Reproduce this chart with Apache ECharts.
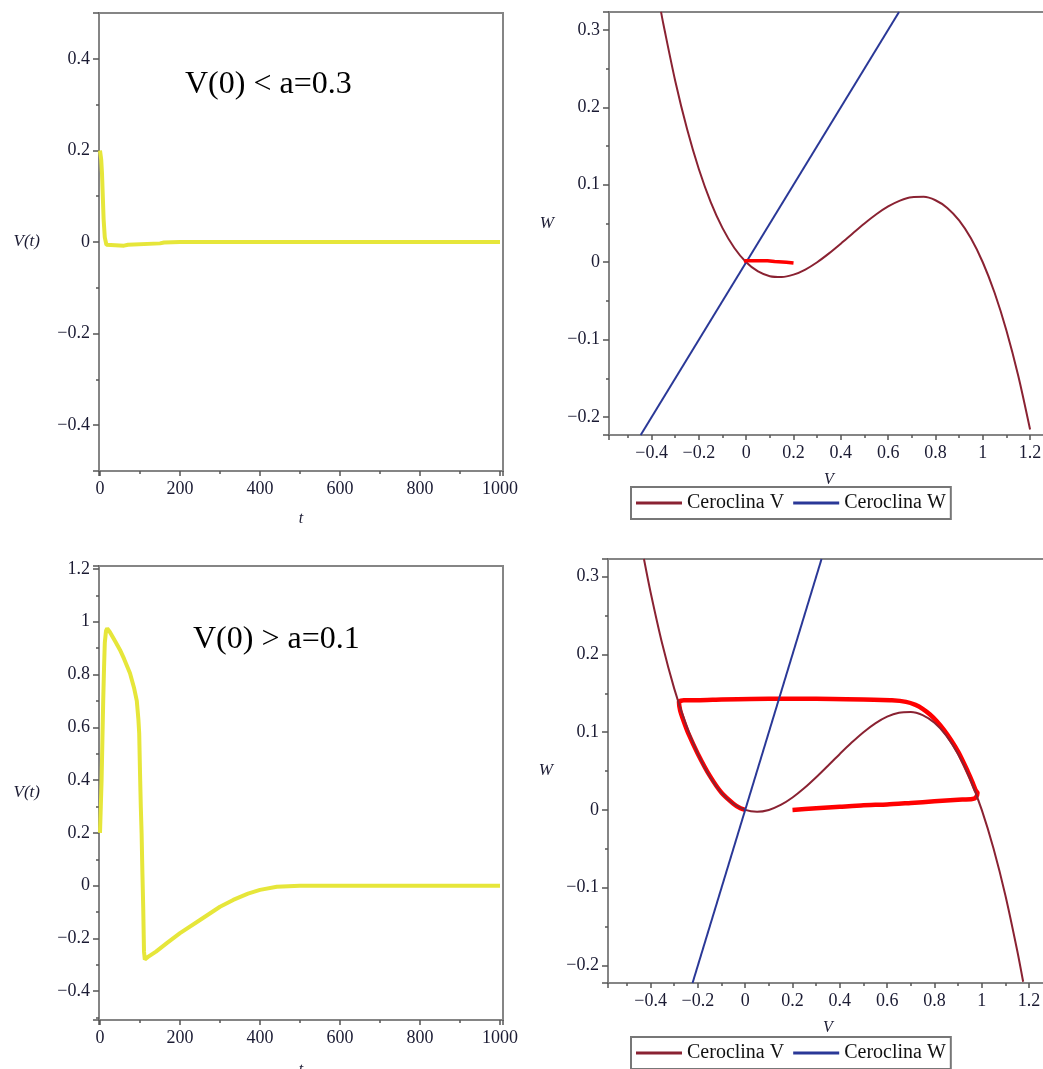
<!DOCTYPE html>
<html>
<head>
<meta charset="utf-8">
<script src="https://cdn.jsdelivr.net/npm/echarts@6/dist/echarts.min.js"></script>
<style>html,body{margin:0;padding:0;background:#fff}#c{width:1043px;height:1069px}</style>
</head>
<body>
<div id="c"></div>
<script>
// ---- data ----
// Top-left: V(t) for V(0)=0.2 < a=0.3
const tlT = [0, 3, 5, 7, 9, 12, 16, 20, 60, 70, 150, 160, 200, 1000];
const tlV = [0.2, 0.18, 0.15, 0.1, 0.05, 0.01, -0.006, -0.008, -0.008, -0.006, -0.003, -0.001, 0, 0];
// Bottom-left: V(t) for V(0)=0.2 > a=0.1
const blT = [0, 2, 4, 6, 8, 10, 12, 15, 18, 25, 40, 50, 60, 75, 85, 92, 96, 98, 100, 102, 104, 106, 108, 110, 112, 120, 140, 167, 200, 250, 300, 333, 370, 400, 442, 500, 1000];
const blV = [0.2, 0.3, 0.4, 0.55, 0.7, 0.82, 0.92, 0.965, 0.975, 0.96, 0.92, 0.893, 0.86, 0.805, 0.75, 0.7, 0.63, 0.577, 0.43, 0.3, 0.198, 0.05, -0.08, -0.25, -0.28, -0.27, -0.25, -0.218, -0.18, -0.13, -0.08, -0.054, -0.03, -0.016, -0.004, 0, 0];
// Top-right: nullclines (a=0.3) and trajectory
const trCubV = [-0.36, -0.35, -0.3, -0.25, -0.2, -0.15, -0.1, -0.05, 0, 0.05, 0.1, 0.15, 0.2, 0.25, 0.3, 0.35, 0.4, 0.45, 0.5, 0.55, 0.6, 0.65, 0.7, 0.75, 0.8, 0.85, 0.9, 0.95, 1.0, 1.05, 1.1, 1.15, 1.2];
const trCubW = [0.3231, 0.3071, 0.234, 0.1719, 0.12, 0.0776, 0.044, 0.0184, 0, -0.0119, -0.018, -0.0191, -0.016, -0.0094, 0, 0.0114, 0.024, 0.0371, 0.05, 0.0619, 0.072, 0.0796, 0.084, 0.0844, 0.08, 0.0701, 0.054, 0.0309, 0, -0.0394, -0.088, -0.1466, -0.216];
const trLinV = [-0.446, 0.646];
const trLinW = [-0.223, 0.323];
const trTrajV = [0.2, 0.17, 0.12, 0.09, 0.05, 0.01, -0.005, 0];
const trTrajW = [-0.001, 0.0, 0.001, 0.002, 0.002, 0.002, 0.002, 0];
// Bottom-right: nullclines (a=0.1) and trajectory
const brCubV = [-0.428, -0.4, -0.35, -0.3, -0.25, -0.2, -0.15, -0.1, -0.05, 0, 0.05, 0.1, 0.15, 0.2, 0.25, 0.3, 0.35, 0.4, 0.45, 0.5, 0.55, 0.6, 0.65, 0.7, 0.75, 0.8, 0.85, 0.9, 0.95, 1.0, 1.05, 1.1, 1.15, 1.175];
const brCubW = [0.3227, 0.28, 0.2126, 0.156, 0.1094, 0.072, 0.0431, 0.022, 0.0079, 0, -0.0024, 0, 0.0064, 0.016, 0.0281, 0.042, 0.0569, 0.072, 0.0866, 0.1, 0.1114, 0.12, 0.1251, 0.126, 0.1219, 0.112, 0.0956, 0.072, 0.0404, 0, -0.0499, -0.11, -0.1811, -0.221];
const brLinV = [-0.2226, 0.3227];
const brLinW = [-0.2226, 0.3227];
const brTrajV = [0.2, 0.3, 0.4, 0.5, 0.6, 0.7, 0.8, 0.9, 0.96, 0.975, 0.982, 0.975, 0.96, 0.94, 0.92, 0.9, 0.87, 0.84, 0.81, 0.78, 0.75, 0.72, 0.68, 0.62, 0.5, 0.3, 0.1, -0.1, -0.2, -0.26, -0.28, -0.275, -0.26, -0.24, -0.2, -0.15, -0.1, -0.05, -0.02, 0];
const brTrajW = [0.0, 0.002, 0.004, 0.006, 0.007, 0.009, 0.011, 0.013, 0.014, 0.016, 0.022, 0.025, 0.036, 0.05, 0.063, 0.075, 0.09, 0.103, 0.114, 0.123, 0.13, 0.135, 0.139, 0.141, 0.142, 0.143, 0.143, 0.142, 0.141, 0.141, 0.139, 0.128, 0.114, 0.098, 0.072, 0.044, 0.022, 0.008, 0.002, 0];

const legendNames = ['Ceroclina V', 'Ceroclina W'];
const notes = ['V(0) < a=0.3', 'V(0) > a=0.1'];

const zip = (a, b) => a.map((v, i) => [v, b[i]]);

// ---- styling ----
const SERIF = '"Liberation Serif", "DejaVu Serif", serif';
const LBL = '#1b1b33';
const AX = '#858585';
const fmt = v => {
  const r = parseFloat(Number(v).toFixed(3));
  return r < 0 ? '\u2212' + String(-r) : String(r);
};
function xAx(grid, min, max, split, name, gap) {
  return {
    type: 'value', gridIndex: grid, min: min, max: max, splitNumber: split,
    name: name, nameLocation: 'middle', nameGap: gap,
    nameTextStyle: { fontFamily: SERIF, fontStyle: 'italic', fontSize: 16, color: LBL },
    axisLine: { show: true, onZero: false, lineStyle: { color: AX, width: 2 } },
    axisTick: { show: true, length: 5, lineStyle: { color: '#555', width: 1.5 } },
    minorTick: { show: true, splitNumber: 2, length: 3, lineStyle: { color: '#555', width: 1.5 } },
    splitLine: { show: false },
    axisLabel: { show: true, showMinLabel: false, showMaxLabel: false, margin: 9, formatter: fmt,
      fontFamily: SERIF, fontSize: 18, color: LBL }
  };
}
function yAx(grid, min, max, split, name, gap) {
  return {
    type: 'value', gridIndex: grid, min: min, max: max, splitNumber: split,
    name: name, nameLocation: 'middle', nameGap: gap, nameRotate: 0,
    nameTextStyle: { fontFamily: SERIF, fontStyle: 'italic', fontSize: 17, color: LBL },
    axisLine: { show: true, onZero: false, lineStyle: { color: AX, width: 2 } },
    axisTick: { show: true, length: 6, lineStyle: { color: '#555', width: 1.5 } },
    minorTick: { show: true, splitNumber: 2, length: 3, lineStyle: { color: '#555', width: 1.5 } },
    splitLine: { show: false },
    axisLabel: { show: true, showMinLabel: false, showMaxLabel: false, margin: 9, formatter: fmt,
      fontFamily: SERIF, fontSize: 18, color: LBL }
  };
}
const gridStyle = { show: true, borderColor: AX, borderWidth: 2, backgroundColor: '#fff', containLabel: false, outerBoundsMode: 'none' };
const CUB = '#8a2232', LIN = '#2a3897', YEL = '#e6e63a', RED = '#ff0000';
const legendBase = {
  data: legendNames, left: 631, orient: 'horizontal', icon: 'rect', itemWidth: 46, itemHeight: 3, itemGap: 9,
  padding: [6, 5, 6, 5], borderColor: '#777', borderWidth: 2, backgroundColor: '#fff',
  textStyle: { fontFamily: SERIF, fontSize: 20, color: '#111' }, selectedMode: false
};

const option = {
  animation: false,
  backgroundColor: '#fff',
  grid: [
    Object.assign({ left: 99, top: 13, width: 404, height: 458 }, gridStyle),
    Object.assign({ left: 609, top: 12, width: 440, height: 423 }, gridStyle),
    Object.assign({ left: 99, top: 566, width: 404, height: 454 }, gridStyle),
    Object.assign({ left: 608, top: 559, width: 440, height: 424 }, gridStyle)
  ],
  xAxis: [
    xAx(0, -2.5, 1007.5, 5, 't', 40),
    xAx(1, -0.58, 1.28, 9, 'V', 37),
    xAx(2, -2.5, 1007.5, 5, 't', 42),
    xAx(3, -0.58, 1.28, 9, 'V', 37)
  ],
  yAxis: [
    yAx(0, -0.5, 0.5, 5, 'V(t)', 59),
    yAx(1, -0.223, 0.323, 5, 'W', 55),
    yAx(2, -0.509, 1.211, 9, 'V(t)', 59),
    yAx(3, -0.2226, 0.3227, 5, 'W', 55)
  ],
  legend: [
    Object.assign({ top: 487 }, legendBase),
    Object.assign({ top: 1037 }, legendBase)
  ],
  graphic: [
    { type: 'text', left: 185, top: 69, style: { text: notes[0], font: '32px ' + SERIF, fill: '#000' } },
    { type: 'text', left: 193, top: 624, style: { text: notes[1], font: '32px ' + SERIF, fill: '#000' } }
  ],
  series: [
    { type: 'line', name: 'V(t) a=0.3', xAxisIndex: 0, yAxisIndex: 0, data: zip(tlT, tlV), symbol: 'none',
      lineStyle: { color: YEL, width: 4 }, itemStyle: { color: YEL } },
    { type: 'line', name: 'Ceroclina V', xAxisIndex: 1, yAxisIndex: 1, data: zip(trCubV, trCubW), symbol: 'none', smooth: 0.3,
      lineStyle: { color: CUB, width: 2 }, itemStyle: { color: CUB } },
    { type: 'line', name: 'Ceroclina W', xAxisIndex: 1, yAxisIndex: 1, data: zip(trLinV, trLinW), symbol: 'none',
      lineStyle: { color: LIN, width: 2 }, itemStyle: { color: LIN } },
    { type: 'line', name: 'traj a=0.3', xAxisIndex: 1, yAxisIndex: 1, data: zip(trTrajV, trTrajW), symbol: 'none',
      lineStyle: { color: RED, width: 3.5 }, itemStyle: { color: RED } },
    { type: 'line', name: 'V(t) a=0.1', xAxisIndex: 2, yAxisIndex: 2, data: zip(blT, blV), symbol: 'none',
      lineStyle: { color: YEL, width: 4 }, itemStyle: { color: YEL } },
    { type: 'line', name: 'Ceroclina V', xAxisIndex: 3, yAxisIndex: 3, data: zip(brCubV, brCubW), symbol: 'none', smooth: 0.3,
      lineStyle: { color: CUB, width: 2 }, itemStyle: { color: CUB }, z: 3 },
    { type: 'line', name: 'Ceroclina W', xAxisIndex: 3, yAxisIndex: 3, data: zip(brLinV, brLinW), symbol: 'none',
      lineStyle: { color: LIN, width: 2 }, itemStyle: { color: LIN } },
    { type: 'line', name: 'traj a=0.1', xAxisIndex: 3, yAxisIndex: 3, data: zip(brTrajV, brTrajW), symbol: 'none', smooth: 0.2,
      lineStyle: { color: RED, width: 4.5 }, itemStyle: { color: RED }, z: 2 }
  ]
};
const chart = echarts.init(document.getElementById('c'), null, { renderer: 'canvas' });
chart.setOption(option);
</script>
</body>
</html>
